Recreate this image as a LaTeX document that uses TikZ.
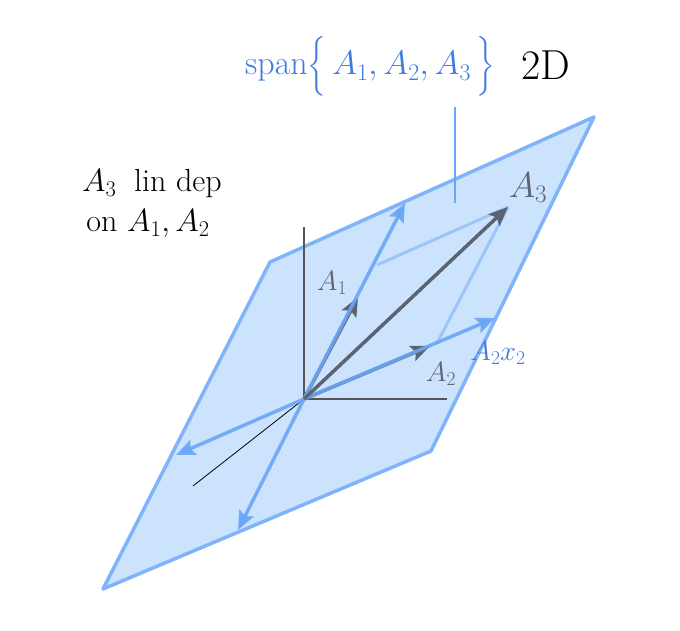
\RequirePackage{fix-cm}
\documentclass[tikz,border=0pt]{standalone}
\usepackage{amsmath}
\usetikzlibrary{arrows.meta}
\definecolor{planefill}{HTML}{CCE3FD}
\definecolor{planeedge}{HTML}{80B4FA}
\definecolor{vecblue}{HTML}{6AA6F6}
\definecolor{lightline}{HTML}{9CC6FA}
\definecolor{slate}{HTML}{5B6470}
\definecolor{textblue}{HTML}{3F7AE0}
\definecolor{axisgray}{HTML}{555555}
\tikzset{
  plane/.style={fill=planefill, draw=planeedge, line width=3.5pt, line join=round},
  axisline/.style={draw=axisgray, line width=1.2pt},
  thinline/.style={draw=black, line width=0.8pt},
  bluevec/.style={draw=vecblue, line width=3.5pt, draw opacity=0.9,
    -{Stealth[length=19pt,width=16pt,inset=3.5pt]}},
  darkvec/.style={draw=slate, line width=3.5pt,
    -{Stealth[length=19pt,width=16pt,inset=3.5pt]}},
  graylab/.style={text=slate, inner sep=0pt},
  lightedge/.style={draw=lightline, line width=3pt},
  guide/.style={draw=vecblue, line width=1.3pt}
}
\begin{document}
\begin{tikzpicture}[x=1pt,y=-1pt]
\useasboundingbox (0,0) rectangle (680,631);
% coordinates
\coordinate (O) at (304,399);
\coordinate (P1) at (270,262);
\coordinate (P2) at (594,117);
\coordinate (P3) at (431,451);
\coordinate (P4) at (103,589);
\coordinate (yax) at (304,227);
\coordinate (xax) at (447,399);
\coordinate (zax) at (193,486);
\coordinate (A1t) at (358,297);
\coordinate (A2t) at (430,346);
\coordinate (A1b) at (405,203);
\coordinate (A2b) at (495,318);
\coordinate (A3t) at (508,207);
\coordinate (N1) at (176,455);
\coordinate (N2) at (238,530);
\coordinate (Q1) at (377,265);
\coordinate (Q2) at (437,343);
\coordinate (G1) at (455,107);
\coordinate (G2) at (455,203);
% plane
\draw[plane] (P4) -- (P1) -- (P2) -- (P3) -- cycle;
% axes
\draw[axisline] (O) -- (yax);
\draw[axisline] (O) -- (xax);
\draw[thinline] (O) -- (zax);
% guide line
\draw[guide] (G1) -- (G2);
% parallelogram construction lines
\draw[lightedge] (Q1) -- (A3t);
\draw[lightedge] (Q2) -- (A3t);
% gray short vectors
\draw[darkvec] (O) -- (A1t);
\draw[darkvec] (O) -- (A2t);
% blue vectors
\draw[bluevec] (O) -- (A1b);
\draw[bluevec] (O) -- (A2b);
\draw[bluevec] (O) -- (N1);
\draw[bluevec] (O) -- (N2);
% A3
\draw[darkvec] (O) -- (A3t);
% labels
\node[graylab, font=\fontsize{36}{42}\selectfont] (lA3) at (528,188) {$A_3$};
\node[graylab, font=\fontsize{28}{32}\selectfont] (lA1) at (332,283) {$A_1$};
\node[graylab, font=\fontsize{28}{32}\selectfont] (lA2) at (441,374) {$A_2$};
\node[text=textblue, inner sep=0pt, font=\fontsize{28}{32}\selectfont] (lA2x2) at (498,353) {$A_2x_2$};
\node[text=textblue, inner sep=0pt, anchor=base west, font=\fontsize{34}{38}\selectfont] (span) at (245,75)
  {span$\Bigl\{\,A_1,A_2,A_3\,\Bigr\}$};
\node[text=black, inner sep=0pt, anchor=base west, font=\fontsize{42}{46}\selectfont] (twoD) at (521,80) {2D};
\node[inner sep=0pt, anchor=base, font=\fontsize{32}{38}\selectfont] (dep1) at (152,192) {$A_3$\hspace{0.55em}lin dep};
\node[inner sep=0pt, anchor=base, font=\fontsize{32}{38}\selectfont] (dep2) at (148,232) {on $A_1,A_2$};
\end{tikzpicture}
\end{document}
